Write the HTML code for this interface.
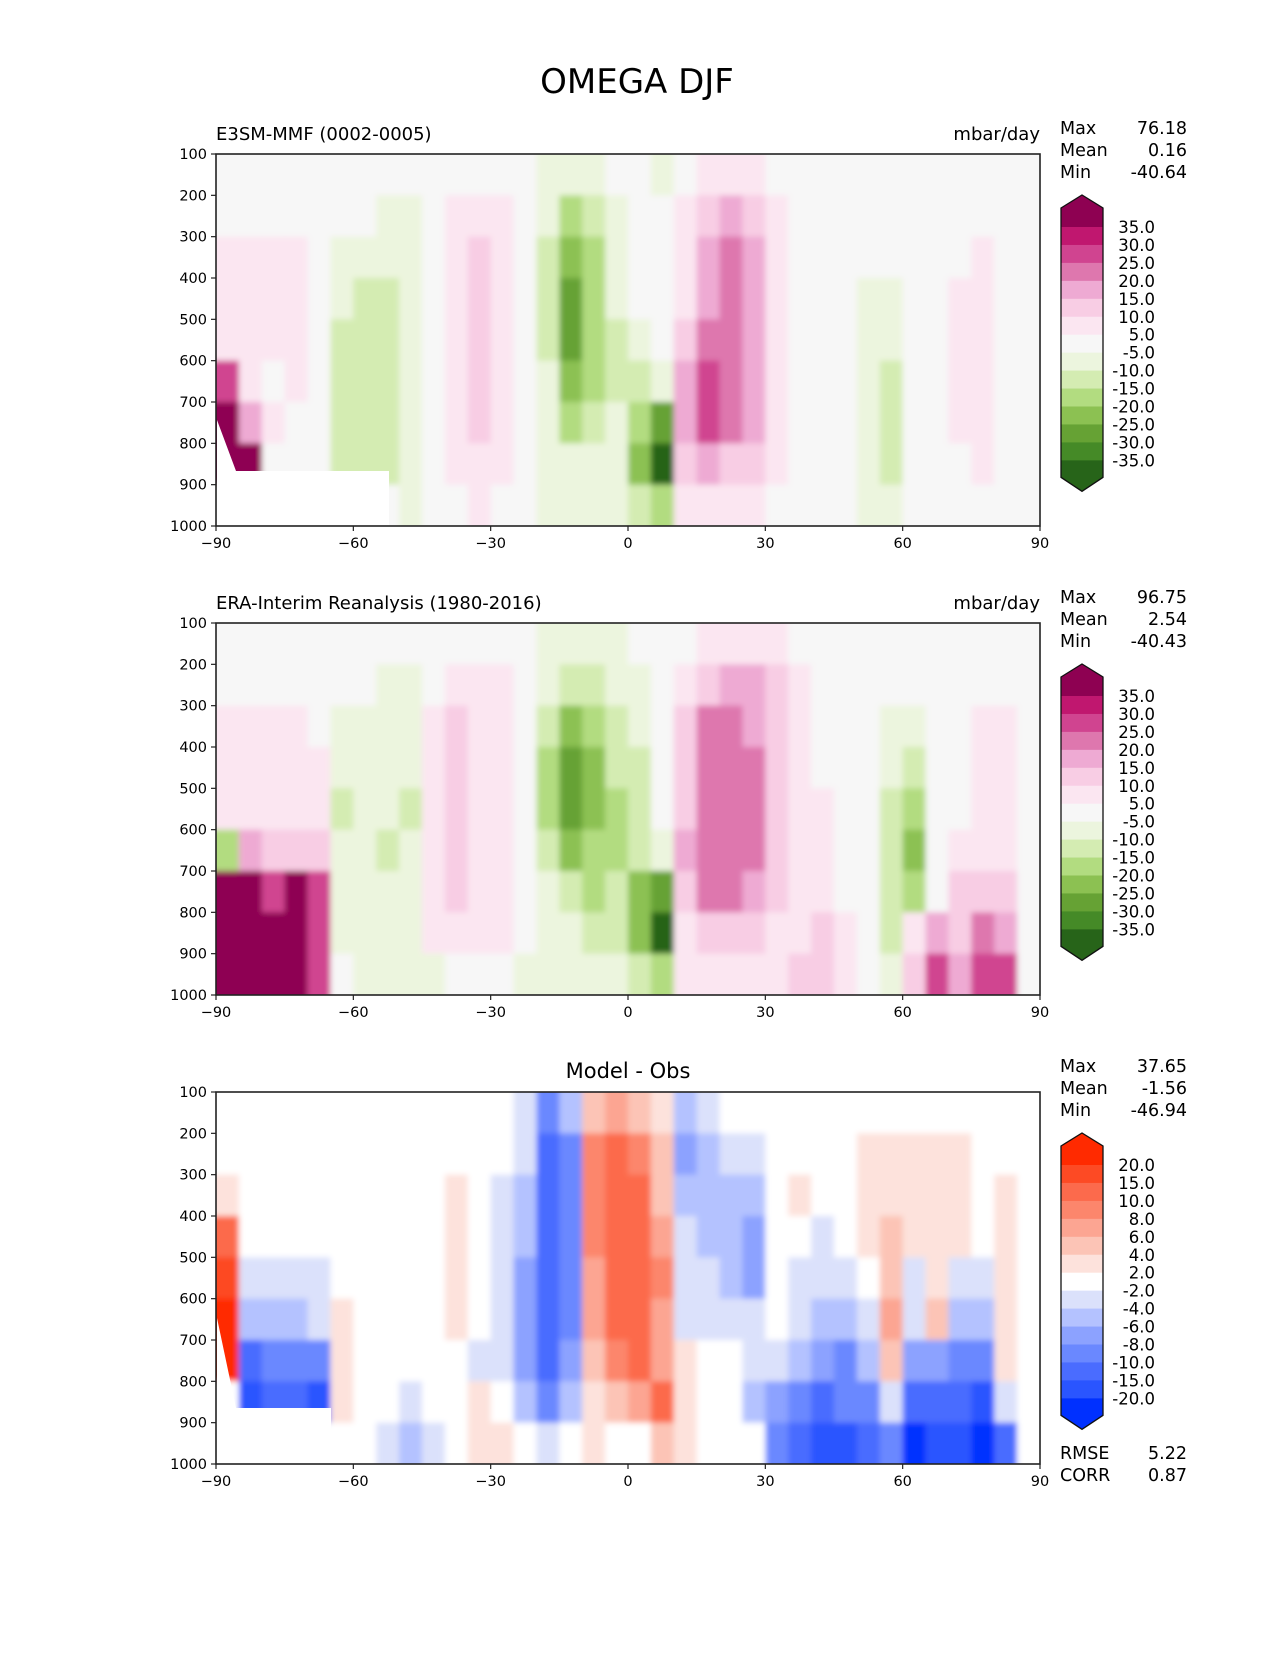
<!DOCTYPE html>
<html><head><meta charset="utf-8"><style>
body{margin:0;background:#fff;}
svg text{font-family:"DejaVu Sans","Liberation Sans",sans-serif;fill:#000;}
</style></head><body>
<svg id="fig" width="1275" height="1650" xmlns="http://www.w3.org/2000/svg">
<defs><filter id="soft" x="-5%" y="-5%" width="110%" height="110%"><feGaussianBlur stdDeviation="3"/></filter></defs>
<rect width="1275" height="1650" fill="#fff"/>
<text x="637" y="93" font-size="34" text-anchor="middle">OMEGA DJF</text>
</svg>
<script>
const lats = [-87.5,-82.5,-77.5,-72.5,-67.5,-62.5,-57.5,-52.5,-47.5,-42.5,-37.5,-32.5,-27.5,-22.5,-17.5,-12.5,-7.5,-2.5,2.5,7.5,12.5,17.5,22.5,27.5,32.5,37.5,42.5,47.5,52.5,57.5,62.5,67.5,72.5,77.5,82.5,87.5];
const levels = [150,250,350,450,550,650,750,850,950];
const xTicks = [-90,-60,-30,0,30,60,90];
const yTicks = [100,200,300,400,500,600,700,800,900,1000];
const modelVals = [
[0,0,0,0,0,0,0,0,0,0,0,0,0,0,-7,-7,-7,0,0,-7,0,7,7,7,0,0,0,0,0,0,0,0,0,0,0,0],
[0,0,0,0,0,0,0,-7,-7,0,7,7,7,0,-7,-17,-12,-7,0,0,7,12,17,12,7,0,0,0,0,0,0,0,0,0,0,0],
[7,7,7,7,0,-7,-7,-7,-7,0,7,12,7,0,-12,-22,-17,-7,0,0,7,17,22,17,7,0,0,0,0,0,0,0,0,7,0,0],
[7,7,7,7,0,-7,-12,-12,-7,0,7,12,7,0,-12,-27,-17,-7,0,0,7,17,22,17,7,0,0,0,-7,-7,0,0,7,7,0,0],
[7,7,7,7,0,-12,-12,-12,-7,0,7,12,7,0,-12,-27,-17,-12,-7,0,12,22,22,17,7,0,0,0,-7,-7,0,0,7,7,0,0],
[27,7,0,7,0,-12,-12,-12,-7,0,7,12,7,0,-7,-22,-17,-12,-12,-7,17,27,22,17,7,0,0,0,-7,-12,0,0,7,7,0,0],
[37,17,7,0,0,-12,-12,-12,-7,0,7,12,7,0,-7,-17,-12,-7,-17,-27,17,27,22,17,7,0,0,0,-7,-12,0,0,7,7,0,0],
[37,37,0,0,0,-12,-12,-12,-7,0,7,7,7,0,-7,-7,-7,-7,-22,-37,12,17,12,12,7,0,0,0,-7,-12,0,0,0,7,0,0],
[0,0,0,0,0,0,0,0,-7,0,0,7,0,0,-7,-7,-7,-7,-12,-17,7,7,7,7,0,0,0,0,-7,-7,0,0,0,0,0,0]];
const obsVals = [
[0,0,0,0,0,0,0,0,0,0,0,0,0,0,-7,-7,-7,-7,0,0,0,7,7,7,7,0,0,0,0,0,0,0,0,0,0,0],
[0,0,0,0,0,0,0,-7,-7,0,7,7,7,0,-7,-12,-12,-7,-7,0,7,12,17,17,12,7,0,0,0,0,0,0,0,0,0,0],
[7,7,7,7,0,-7,-7,-7,-7,7,12,7,7,0,-12,-22,-17,-12,-7,0,12,22,22,17,12,7,0,0,0,-7,-7,0,0,7,7,0],
[7,7,7,7,7,-7,-7,-7,-7,7,12,7,7,0,-17,-27,-22,-12,-12,0,12,22,22,22,12,7,0,0,0,-7,-12,0,0,7,7,0],
[7,7,7,7,7,-12,-7,-7,-12,7,12,7,7,0,-17,-27,-22,-17,-12,0,12,22,22,22,12,7,7,0,0,-12,-17,0,0,7,7,0],
[-17,17,12,12,12,-7,-7,-12,-7,7,12,7,7,0,-12,-22,-17,-17,-12,-7,17,22,22,22,12,7,7,0,0,-12,-22,0,7,7,7,0],
[37,37,27,37,27,-7,-7,-7,-7,7,12,7,7,0,-7,-12,-17,-12,-22,-27,12,22,22,17,12,7,7,0,0,-12,-17,0,12,12,12,0],
[37,37,37,37,27,-7,-7,-7,-7,7,7,7,7,0,-7,-7,-12,-12,-22,-37,7,12,12,12,7,7,12,7,0,-12,7,17,12,22,17,0],
[37,37,37,37,27,0,-7,-7,-7,-7,0,0,0,-7,-7,-7,-7,-7,-12,-17,7,7,7,7,7,12,12,7,0,-7,12,27,17,27,27,0]];
const diffVals = [
[0,0,0,0,0,0,0,0,0,0,0,0,0,-3,-10,-5,5,7,5,3,-5,-3,0,0,0,0,0,0,0,0,0,0,0,0,0,0],
[0,0,0,0,0,0,0,0,0,0,0,0,0,-3,-12,-9,9,12,9,5,-7,-5,-3,-3,0,0,0,0,3,3,3,3,3,0,0,0],
[3,0,0,0,0,0,0,0,0,0,3,0,-3,-5,-12,-9,9,12,12,5,-5,-5,-5,-5,0,3,0,0,3,3,3,3,3,0,3,0],
[12,0,0,0,0,0,0,0,0,0,3,0,-3,-5,-12,-9,9,12,12,7,-3,-5,-5,-7,0,0,-3,0,3,5,3,3,3,0,3,0],
[17,-3,-3,-3,-3,0,0,0,0,0,3,0,-3,-7,-12,-9,7,12,12,9,-3,-3,-5,-7,0,-3,-3,-3,0,5,-3,3,-3,-3,3,0],
[25,-5,-5,-5,-3,3,0,0,0,0,3,0,-3,-7,-15,-9,7,12,12,7,-3,-3,-3,-3,0,-3,-5,-5,-3,7,-3,5,-5,-5,3,0],
[25,-12,-10,-10,-9,3,0,0,0,0,0,-3,-3,-7,-12,-7,5,9,12,7,3,0,0,-3,-3,-5,-7,-9,-5,5,-7,-7,-9,-9,3,0],
[0,-17,-12,-15,-20,3,0,0,-3,0,0,3,0,-5,-9,-5,3,5,7,12,3,0,0,-5,-7,-10,-12,-10,-9,-3,-12,-12,-15,-17,-3,0],
[0,0,0,0,0,0,0,-3,-5,-3,0,3,3,0,-3,0,3,0,0,5,3,0,0,0,-9,-15,-20,-17,-12,-10,-25,-20,-20,-25,-12,0]];
const piyBounds = [-35,-30,-25,-20,-15,-10,-5,5,10,15,20,25,30,35];
const piyColors = ['#276419','#458a27','#66a234','#8cc152','#b2dc80','#d4ecb2','#ecf5de','#f7f7f7','#fbe6f1','#f8cde4','#eeaad3','#de77ae','#d04490','#c0176f','#8e0152'];
const diffBounds = [-20,-15,-10,-8,-6,-4,-2,2,4,6,8,10,15,20];
const diffColors = ['#0030ff','#2a55ff','#4a6cff','#6a88ff','#8ca2ff','#b4c2ff','#dbe1fb','#ffffff','#fde2dc','#fcc4b6','#fca592','#fc866c','#fc6a4c','#fd4a24','#ff2a00'];
const piyLabels = ['35.0','30.0','25.0','20.0','15.0','10.0','5.0','-5.0','-10.0','-15.0','-20.0','-25.0','-30.0','-35.0'];
const diffLabels = ['20.0','15.0','10.0','8.0','6.0','4.0','2.0','-2.0','-4.0','-6.0','-8.0','-10.0','-15.0','-20.0'];

const NS='http://www.w3.org/2000/svg';
const svg=document.getElementById('fig');
const defs=svg.querySelector('defs');
function mk(tag,attrs,parent){const e=document.createElementNS(NS,tag);for(const k in attrs)e.setAttribute(k,attrs[k]);(parent||svg).appendChild(e);return e;}
const L=216,R=1040,W=R-L,PH=372;
function colorFor(v,b,c){let i=0;while(i<b.length&&v>=b[i])i++;return c[i];}

function panel(top,vals,bounds,colors,bg,name,missing){
  const g=mk('g',{});
  
  
  const xS=lat=>L+(lat+90)/180*W;
  const yS=p=>top+(p-100)/900*PH;
  const cid='clip-'+name;
  const cp=mk('clipPath',{id:cid},defs);
  mk('rect',{x:L,y:top,width:W,height:PH},cp);
  const bgr=mk('rect',{x:L,y:top,width:W,height:PH,fill:bg},g);
  
  
  const cg=mk('g',{'clip-path':'url(#'+cid+')'},g);
  const fg=mk('g',{filter:'url(#soft)'},cg);
  for(let r=0;r<levels.length;r++)for(let c=0;c<lats.length;c++){
    const x0=xS(lats[c]-2.5),x1=xS(lats[c]+2.5),y0=yS(levels[r]-50),y1=yS(levels[r]+50);
    const ex=(c===0?-8:0),ex2=(c===lats.length-1?8:0),ey=(r===0?-8:0),ey2=(r===levels.length-1?8:0);
    const cell=mk('rect',{x:x0+ex,y:y0+ey,width:x1-x0+0.5-ex+ex2,height:y1-y0+0.5-ey+ey2,fill:colorFor(vals[r][c],bounds,colors)},fg);
    
    
  }
  if(missing){const m=mk('path',{d:missing,fill:'#fff'},g);
    
    }
  const fr=mk('rect',{x:L,y:top,width:W,height:PH,fill:'none',stroke:'#222','stroke-width':1.6},g);
  
  
  xTicks.forEach(t=>{const x=xS(t);mk('line',{x1:x,x2:x,y1:top+PH,y2:top+PH+5,stroke:'#222','stroke-width':1.2},g);
    const tx=mk('text',{x:x,y:top+PH+22,'font-size':14.5,'text-anchor':'middle'},g);tx.textContent=t===0?'0':(t<0?'\u2212'+(-t):String(t));
    
    });
  yTicks.forEach(t=>{const y=yS(t);mk('line',{x1:L-5,x2:L,y1:y,y2:y,stroke:'#222','stroke-width':1.2},g);
    const ty=mk('text',{x:L-9,y:y+5,'font-size':14.5,'text-anchor':'end'},g);ty.textContent=t;
    
    });
}
function colorbar(top,colors,labels,name){
  const g=mk('g',{});
  
  
  const x0=1061,x1=1103,xm=1082,b0=top+73,step=17.95,n=labels.length;
  mk('path',{d:`M${x0} ${top+54}L${xm} ${top+41}L${x1} ${top+54}L${x1} ${b0}L${x0} ${b0}Z`,fill:colors[14]},g);
  for(let i=0;i<n-1;i++)mk('rect',{x:x0,y:b0+i*step,width:x1-x0,height:step+0.5,fill:colors[13-i]},g);
  const be=b0+(n-1)*step;
  mk('path',{d:`M${x0} ${be}L${x1} ${be}L${x1} ${be+17}L${xm} ${be+31}L${x0} ${be+17}Z`,fill:colors[0]},g);
  mk('path',{d:`M${x0} ${top+54}L${xm} ${top+41}L${x1} ${top+54}L${x1} ${be+17}L${xm} ${be+31}L${x0} ${be+17}Z`,fill:'none',stroke:'#111','stroke-width':1.3},g);
  labels.forEach((lb,i)=>{const t=mk('text',{x:1155,y:b0+i*step+6,'font-size':16.5,'text-anchor':'end'},g);t.textContent=lb;
    
    });
}
function label(x,y,txt,size,anchor,name){const t=mk('text',{x:x,y:y,'font-size':size,'text-anchor':anchor});t.textContent=txt;
  
  }
function stats(top,vals,name){
  ['Max','Mean','Min'].forEach((k,i)=>{label(1060,top+i*22,k,17.5,'start',name+'-'+k.toLowerCase()+'-label');label(1187,top+i*22,vals[i],17.5,'end',name+'-'+k.toLowerCase()+'-value');});
}
panel(154,modelVals,piyBounds,piyColors,'#f7f7f7','model-panel','M217 471L389 471L389 525L217 525Z M217 420L236 471L217 471Z');
panel(623,obsVals,piyBounds,piyColors,'#f7f7f7','obs-panel',null);
panel(1092,diffVals,diffBounds,diffColors,'#ffffff','diff-panel','M217 1408L331 1408L331 1462L217 1462Z M217 1318L236 1408L217 1408Z');
colorbar(154,piyColors,piyLabels,'model-colorbar');
colorbar(623,piyColors,piyLabels,'obs-colorbar');
colorbar(1092,diffColors,diffLabels,'diff-colorbar');
label(216,140,'E3SM-MMF (0002-0005)',18,'start','model-panel-title');
label(1040,140,'mbar/day',18,'end','model-units');
label(216,609,'ERA-Interim Reanalysis (1980-2016)',18,'start','obs-panel-title');
label(1040,609,'mbar/day',18,'end','obs-units');
label(628,1078,'Model - Obs',21,'middle','diff-panel-title');
stats(134,['76.18','0.16','-40.64'],'model-stats');
stats(603,['96.75','2.54','-40.43'],'obs-stats');
stats(1072,['37.65','-1.56','-46.94'],'diff-stats');
label(1060,1459,'RMSE',17.5,'start','rmse-label');label(1187,1459,'5.22',17.5,'end','rmse-value');
label(1060,1481,'CORR',17.5,'start','corr-label');label(1187,1481,'0.87',17.5,'end','corr-value');
</script>
</body></html>
